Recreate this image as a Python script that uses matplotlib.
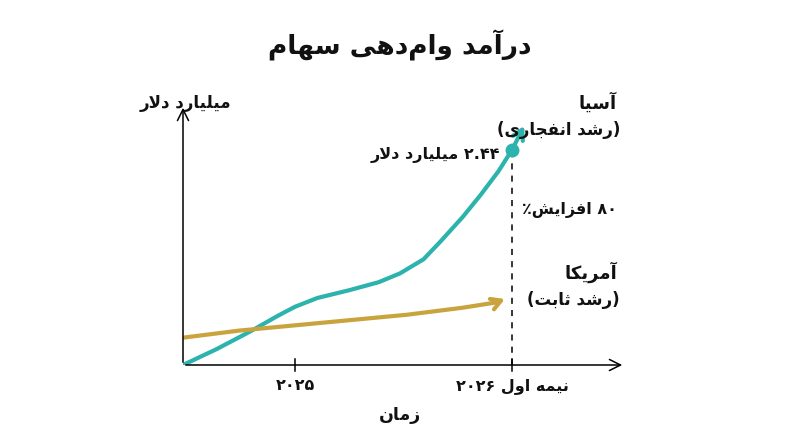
import matplotlib
matplotlib.use("Agg")
import matplotlib.pyplot as plt

# data (billions USD), time in units where 2025 = 1
asia_t = [0.0, 0.3, 0.6, 0.85, 1.0, 1.2, 1.49, 1.75, 1.94, 2.15, 2.30, 2.50, 2.66, 2.82, 2.94]
asia_v = [0.0, 0.18, 0.38, 0.56, 0.66, 0.76, 0.85, 0.94, 1.04, 1.20, 1.40, 1.68, 1.93, 2.20, 2.44]
us_t = [0.0, 0.5, 1.0, 1.5, 2.0, 2.5, 2.80]
us_v = [0.31, 0.39, 0.45, 0.51, 0.57, 0.65, 0.71]
tick_t = [1.0, 2.94]
tick_labels = ["۲۰۲۵", "نیمه اول ۲۰۲۶"]
asia_final = 2.44

TEAL = "#2db3ad"
GOLD = "#c9a43e"

FORMS = {  # isolated, final, initial, medial
    "ا": (0xFE8D, 0xFE8E), "آ": (0xFE81, 0xFE82), "د": (0xFEA9, 0xFEAA),
    "ر": (0xFEAD, 0xFEAE), "ز": (0xFEAF, 0xFEB0), "و": (0xFEED, 0xFEEE),
    "ب": (0xFE8F, 0xFE90, 0xFE91, 0xFE92), "ت": (0xFE95, 0xFE96, 0xFE97, 0xFE98),
    "ث": (0xFE99, 0xFE9A, 0xFE9B, 0xFE9C), "ج": (0xFE9D, 0xFE9E, 0xFE9F, 0xFEA0),
    "س": (0xFEB1, 0xFEB2, 0xFEB3, 0xFEB4), "ش": (0xFEB5, 0xFEB6, 0xFEB7, 0xFEB8),
    "ف": (0xFED1, 0xFED2, 0xFED3, 0xFED4), "ل": (0xFEDD, 0xFEDE, 0xFEDF, 0xFEE0),
    "م": (0xFEE1, 0xFEE2, 0xFEE3, 0xFEE4), "ن": (0xFEE5, 0xFEE6, 0xFEE7, 0xFEE8),
    "ه": (0xFEE9, 0xFEEA, 0xFEEB, 0xFEEC), "ی": (0xFBFC, 0xFBFD, 0xFBFE, 0xFBFF),
    "ک": (0xFB8E, 0xFB8F, 0xFB90, 0xFB91),
}
MIRROR = {"(": ")", ")": "("}


def shape_word(w):
    # lam-alef ligature, then contextual forms, then visual order
    chars = list(w)
    out = []
    i = 0
    while i < len(chars):
        if chars[i] == "ل" and i + 1 < len(chars) and chars[i + 1] in "اآ":
            out.append("LA")
            i += 2
        else:
            out.append(chars[i])
            i += 1
    res = []
    for i, c in enumerate(out):
        prev = out[i - 1] if i > 0 else None
        nxt = out[i + 1] if i + 1 < len(out) else None
        join_prev = prev is not None and prev in FORMS and len(FORMS[prev]) == 4
        if c == "LA":
            res.append(chr(0xFEFC if join_prev else 0xFEFB))
            continue
        if c not in FORMS:
            res.append(MIRROR.get(c, c))
            continue
        f = FORMS[c]
        join_next = len(f) == 4 and nxt is not None and (nxt in FORMS or nxt == "LA")
        if join_prev and join_next:
            res.append(chr(f[3]))
        elif join_prev:
            res.append(chr(f[1]))
        elif join_next:
            res.append(chr(f[2]))
        else:
            res.append(chr(f[0]))
    return "".join(res[::-1])


def fa(text):
    out = []
    for w in text.split(" "):
        pieces = w.split("\u200c")
        shaped = [shape_word(p) if any(ch in FORMS for ch in p) else p for p in pieces]
        out.append("".join(shaped[::-1]))
    return " ".join(out[::-1])


plt.rcParams["font.family"] = ["DejaVu Sans", "Noto Sans"]
plt.rcParams["font.weight"] = "bold"

fig = plt.figure(figsize=(8, 4.47), dpi=100)
W, H = 800, 447


def px(x, y):
    return x / W, 1 - y / H


ax = fig.add_axes([183 / W, (H - 365) / H, 442 / W, 260 / H])
ax.set_xlim(0, 3.95)
ax.set_ylim(0, 2.95)
ax.axis("off")

ax.plot(asia_t, asia_v, color=TEAL, lw=3, solid_capstyle="round")
ax.annotate("", xy=(3.06, 2.74), xytext=(asia_t[-1], asia_v[-1]),
            arrowprops=dict(arrowstyle="->,head_length=0.7,head_width=0.4", color=TEAL, lw=3))
ax.plot(us_t, us_v, color=GOLD, lw=3, solid_capstyle="round")
ax.annotate("", xy=(2.90, 0.76), xytext=(us_t[-1], us_v[-1]),
            arrowprops=dict(arrowstyle="->,head_length=0.7,head_width=0.4", color=GOLD, lw=3))
ax.plot([asia_t[-1]], [asia_final], "o", color=TEAL, ms=9, zorder=5)
ax.plot([asia_t[-1]] * 2, [0, asia_final], ls=(0, (4, 4)), color="black", lw=1.1)

# axes arrows
ax.annotate("", xy=(3.95, 0), xytext=(0, 0), annotation_clip=False,
            arrowprops=dict(arrowstyle="->,head_length=0.8,head_width=0.4", color="black", lw=1.1))
ax.annotate("", xy=(0, 2.95), xytext=(0, 0), annotation_clip=False,
            arrowprops=dict(arrowstyle="->,head_length=0.8,head_width=0.4", color="black", lw=1.1))
for t in tick_t:
    ax.plot([t, t], [-0.07, 0.07], color="black", lw=1.1, clip_on=False)

bold = dict(fontweight="bold", color="#111111")
fig.text(*px(400, 45), fa("درآمد وام\u200cدهی سهام"), ha="center", va="center", fontsize=19, **bold)
fig.text(*px(185, 103), fa("میلیارد دلار"), ha="center", va="center", fontsize=12, **bold)
fig.text(*px(617, 103), fa("آسیا"), ha="right", va="center", fontsize=13, **bold)
fig.text(*px(620, 130), fa("(رشد انفجاری)"), ha="right", va="center", fontsize=12, **bold)
fig.text(*px(500, 155), fa("۲.۴۴ میلیارد دلار"), ha="right", va="center", fontsize=11.5, **bold)
fig.text(*px(617, 210), fa("۸۰ افزایش٪"), ha="right", va="center", fontsize=11.5, **bold)
fig.text(*px(617, 272), fa("آمریکا"), ha="right", va="center", fontsize=13, **bold)
fig.text(*px(620, 300), fa("(رشد ثابت)"), ha="right", va="center", fontsize=12, **bold)
for t, lab in zip(tick_t, tick_labels):
    x = 183 + t * 112
    fig.text(*px(x, 386), fa(lab), ha="center", va="center", fontsize=11.5, **bold)
fig.text(*px(400, 415), fa("زمان"), ha="center", va="center", fontsize=12.5, **bold)

fig.savefig("out.png", dpi=100, facecolor="white")
